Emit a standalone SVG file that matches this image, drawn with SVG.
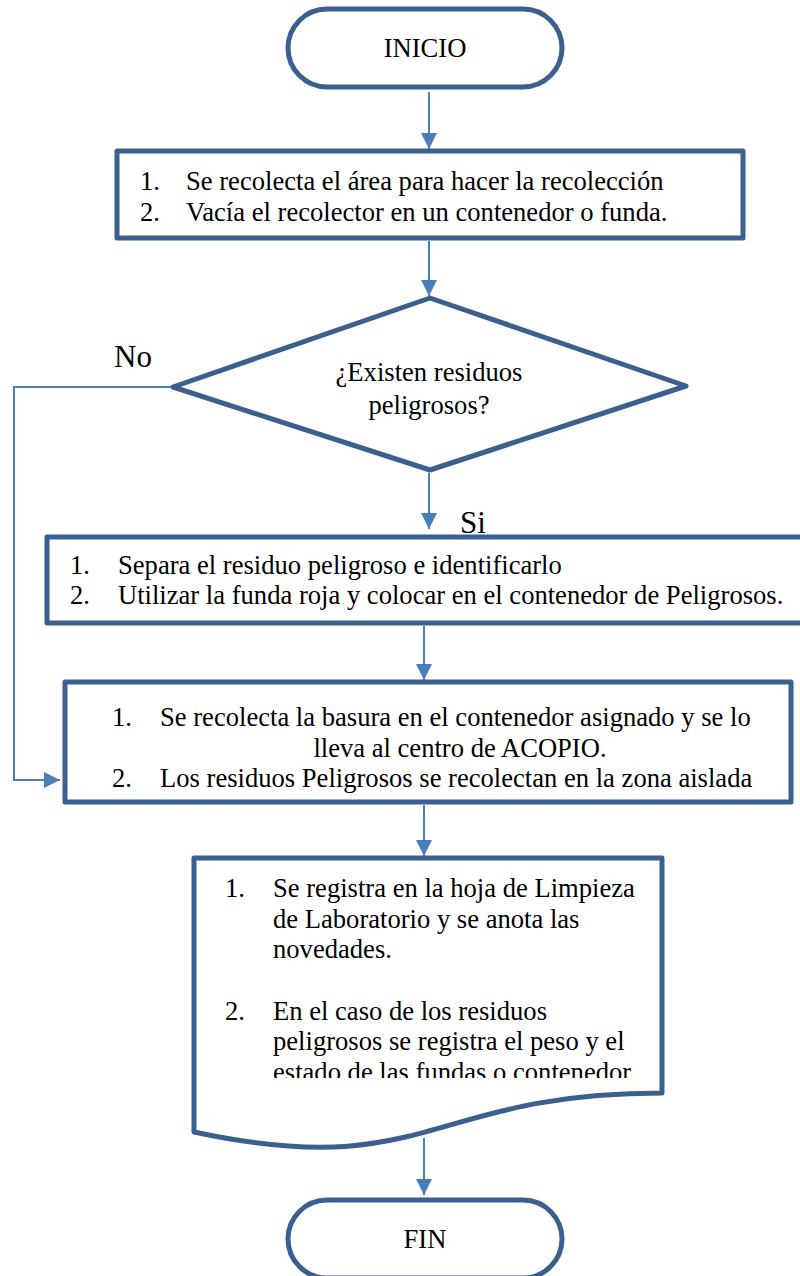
<svg xmlns="http://www.w3.org/2000/svg" width="800" height="1276" viewBox="0 0 800 1276">
<defs>
<style>
.shape{fill:#ffffff;stroke:#3b5f8e;stroke-width:5;stroke-linejoin:round}
.conn{fill:none;stroke:#4a7ebb;stroke-width:2}
.t{font-family:"Liberation Serif","Times New Roman",serif;font-size:26.6px;fill:#000}
.lbl{font-family:"Liberation Serif","Times New Roman",serif;font-size:31px;fill:#000}
.mid{text-anchor:middle}
</style>
<marker id="ah" markerUnits="userSpaceOnUse" markerWidth="16" markerHeight="16" viewBox="0 0 16 16" refX="16" refY="8" orient="auto">
<path d="M0,0 L16,8 L0,16 Z" fill="#4a7ebb"/>
</marker>
<clipPath id="clip4"><rect x="190" y="850" width="480" height="228"/></clipPath>
</defs>
<rect width="800" height="1276" fill="#ffffff"/>

<g id="connectors">
<line class="conn" x1="429" y1="92" x2="429" y2="149" marker-end="url(#ah)"/>
<line class="conn" x1="429" y1="241" x2="429" y2="296" marker-end="url(#ah)"/>
<line class="conn" x1="429" y1="473" x2="429" y2="529" marker-end="url(#ah)"/>
<polyline class="conn" points="172,387 14,387 14,780 60,780" marker-end="url(#ah)"/>
<line class="conn" x1="424" y1="626" x2="424" y2="680" marker-end="url(#ah)"/>
<line class="conn" x1="424" y1="805" x2="424" y2="856" marker-end="url(#ah)"/>
<line class="conn" x1="424" y1="1138" x2="424" y2="1195" marker-end="url(#ah)"/>
<text class="lbl" x="114" y="367">No</text>
<text class="lbl" x="460" y="533">Si</text>
</g>

<g id="inicio">
<rect class="shape" x="288" y="9" width="274" height="78" rx="39" ry="39"/>
<text class="t mid" x="425" y="57">INICIO</text>
</g>

<g id="paso1">
<rect class="shape" x="117" y="151" width="626" height="87"/>
<text class="t" x="140" y="190">1.</text>
<text class="t" x="186" y="190">Se recolecta el área para hacer la recolección</text>
<text class="t" x="140" y="221">2.</text>
<text class="t" x="186" y="221">Vacía el recolector en un contenedor o funda.</text>
</g>

<g id="decision">
<polygon class="shape" points="430,298 686,386 430,470 173,387"/>
<text class="t mid" x="429" y="381">¿Existen residuos</text>
<text class="t mid" x="429" y="414">peligrosos?</text>
</g>

<g id="peligrosos">
<rect class="shape" x="47" y="537" width="760" height="86"/>
<text class="t" x="70" y="574">1.</text>
<text class="t" x="118" y="574">Separa el residuo peligroso e identificarlo</text>
<text class="t" x="70" y="604">2.</text>
<text class="t" x="118" y="604">Utilizar la funda roja y colocar en el contenedor de Peligrosos.</text>
</g>

<g id="acopio">
<rect class="shape" x="65" y="682" width="726" height="120"/>
<text class="t" x="112" y="726">1.</text>
<text class="t" x="160" y="726">Se recolecta la basura en el contenedor asignado y se lo</text>
<text class="t mid" x="460" y="757">lleva al centro de ACOPIO.</text>
<text class="t" x="112" y="787">2.</text>
<text class="t" x="160" y="787">Los residuos Peligrosos se recolectan en la zona aislada</text>
</g>

<g id="registro">
<path class="shape" d="M194,858 H662 V1093 C428,1093 428,1182 194,1132 Z"/>
<g clip-path="url(#clip4)">
<text class="t" x="225" y="897">1.</text>
<text class="t" x="273" y="897">Se registra en la hoja de Limpieza</text>
<text class="t" x="273" y="928">de Laboratorio y se anota las</text>
<text class="t" x="273" y="958">novedades.</text>
<text class="t" x="225" y="1020">2.</text>
<text class="t" x="273" y="1020">En el caso de los residuos</text>
<text class="t" x="273" y="1050">peligrosos se registra el peso y el</text>
<text class="t" x="273" y="1081">estado de las fundas o contenedor</text>
</g>
</g>

<g id="fin">
<rect class="shape" x="288" y="1200" width="274" height="78" rx="39" ry="39"/>
<text class="t mid" x="425" y="1248">FIN</text>
</g>
</svg>
